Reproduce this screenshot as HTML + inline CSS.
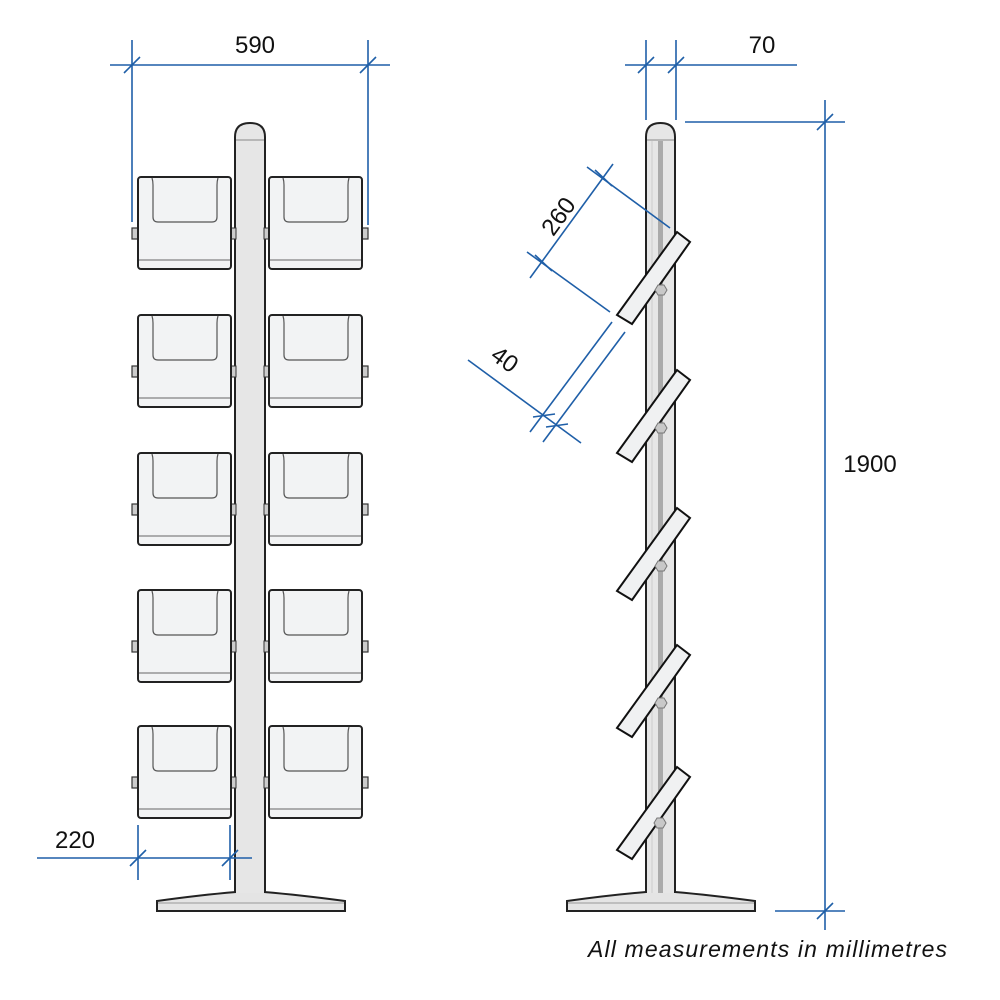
<!DOCTYPE html>
<html><head><meta charset="utf-8"><style>
html,body{margin:0;padding:0;background:#fff}
svg{display:block}
</style></head><body>
<svg width="1000" height="1000" viewBox="0 0 1000 1000" xmlns="http://www.w3.org/2000/svg">
<defs>
<g id="boxL">
  <rect x="132" y="51" width="7" height="11" fill="#ccc" stroke="#333" stroke-width="1.2"/>
  <rect x="231" y="51" width="5" height="11" fill="#ccc" stroke="#333" stroke-width="1"/>
  <rect x="138" y="0" width="93" height="92" rx="3" fill="#f2f3f4" stroke="#222" stroke-width="2"/>
  <path d="M152 1 Q153 4 153 8 L153 40 Q153 45 158 45 L212 45 Q217 45 217 40 L217 8 Q217 4 218 1" fill="none" stroke="#555" stroke-width="1.2"/>
  <line x1="139" y1="83" x2="230" y2="83" stroke="#666" stroke-width="1"/>
</g>
<g id="boxR">
  <rect x="264" y="51" width="6" height="11" fill="#ccc" stroke="#333" stroke-width="1"/>
  <rect x="361" y="51" width="7" height="11" fill="#ccc" stroke="#333" stroke-width="1.2"/>
  <rect x="269" y="0" width="93" height="92" rx="3" fill="#f2f3f4" stroke="#222" stroke-width="2"/>
  <path d="M283 1 Q284 4 284 8 L284 40 Q284 45 289 45 L343 45 Q348 45 348 40 L348 8 Q348 4 349 1" fill="none" stroke="#555" stroke-width="1.2"/>
  <line x1="270" y1="83" x2="361" y2="83" stroke="#666" stroke-width="1"/>
</g>
<g id="shelf">
  <polygon points="677,232 690,242 632,324 617,315" fill="#f0f1f2" stroke="#111" stroke-width="2"/>
</g>
<polygon id="hex" points="-3,-5 3,-5 6,0 3,5 -3,5 -6,0" fill="#c8c8c8" stroke="#777" stroke-width="1"/>
</defs>

<path d="M157 911 L157 901 Q200 895 236 892 L264 892 Q300 895 345 901 L345 911 Z" fill="#e4e4e4" stroke="#222" stroke-width="2"/>
<line x1="158" y1="903" x2="344" y2="903" stroke="#999" stroke-width="1"/>
<path d="M235 893 L235 137 Q235 123 250 123 Q265 123 265 137 L265 893" fill="#e6e6e6" stroke="#222" stroke-width="2"/>
<line x1="236" y1="140" x2="264" y2="140" stroke="#888" stroke-width="1"/>

<use href="#boxL" transform="translate(0,177)"/><use href="#boxR" transform="translate(0,177)"/>
<use href="#boxL" transform="translate(0,315)"/><use href="#boxR" transform="translate(0,315)"/>
<use href="#boxL" transform="translate(0,453)"/><use href="#boxR" transform="translate(0,453)"/>
<use href="#boxL" transform="translate(0,590)"/><use href="#boxR" transform="translate(0,590)"/>
<use href="#boxL" transform="translate(0,726)"/><use href="#boxR" transform="translate(0,726)"/>

<path d="M567 911 L567 901 Q610 895 646 892 L675 892 Q710 895 755 901 L755 911 Z" fill="#e4e4e4" stroke="#222" stroke-width="2"/>
<line x1="568" y1="903" x2="754" y2="903" stroke="#999" stroke-width="1"/>
<path d="M646 893 L646 137 Q646 123 660.5 123 Q675 123 675 137 L675 893" fill="#e6e6e6" stroke="#222" stroke-width="2"/>
<line x1="647" y1="140" x2="674" y2="140" stroke="#888" stroke-width="1"/>
<rect x="658" y="141" width="5" height="752" fill="#aaa"/>
<line x1="652" y1="141" x2="652" y2="893" stroke="#ccc" stroke-width="1"/>

<use href="#shelf"/>
<use href="#shelf" transform="translate(0,138)"/>
<use href="#shelf" transform="translate(0,276)"/>
<use href="#shelf" transform="translate(0,413)"/>
<use href="#shelf" transform="translate(0,535)"/>
<use href="#hex" transform="translate(661,290)"/>
<use href="#hex" transform="translate(661,428)"/>
<use href="#hex" transform="translate(661,566)"/>
<use href="#hex" transform="translate(661,703)"/>
<use href="#hex" transform="translate(660,823)"/>

<g stroke="#1f5fa8" stroke-width="1.6" fill="none">
  <line x1="110" y1="65" x2="390" y2="65"/>
  <line x1="132" y1="40" x2="132" y2="222"/>
  <line x1="368" y1="40" x2="368" y2="225"/>
  <line x1="124" y1="73" x2="140" y2="57"/>
  <line x1="360" y1="73" x2="376" y2="57"/>
  <line x1="37" y1="858" x2="252" y2="858"/>
  <line x1="138" y1="825" x2="138" y2="880"/>
  <line x1="230" y1="825" x2="230" y2="880"/>
  <line x1="130" y1="866" x2="146" y2="850"/>
  <line x1="222" y1="866" x2="238" y2="850"/>
  <line x1="625" y1="65" x2="797" y2="65"/>
  <line x1="646" y1="40" x2="646" y2="120"/>
  <line x1="676" y1="40" x2="676" y2="120"/>
  <line x1="638" y1="73" x2="654" y2="57"/>
  <line x1="668" y1="73" x2="684" y2="57"/>
  <line x1="825" y1="100" x2="825" y2="930"/>
  <line x1="685" y1="122" x2="845" y2="122"/>
  <line x1="775" y1="911" x2="845" y2="911"/>
  <line x1="817" y1="130" x2="833" y2="114"/>
  <line x1="817" y1="919" x2="833" y2="903"/>
  <line x1="587" y1="167" x2="670" y2="228"/>
  <line x1="527" y1="252" x2="610" y2="312"/>
  <line x1="613" y1="164" x2="530" y2="278"/>
  <line x1="595" y1="170" x2="612" y2="186"/>
  <line x1="535" y1="255" x2="552" y2="271"/>
  <line x1="468" y1="360" x2="581" y2="443"/>
  <line x1="612" y1="322" x2="530" y2="432"/>
  <line x1="625" y1="332" x2="543" y2="442"/>
  <line x1="533" y1="417" x2="555" y2="414"/>
  <line x1="546" y1="427" x2="568" y2="424"/>
</g>

<g font-family="Liberation Sans, Arial, sans-serif" font-size="24" fill="#111">
  <text x="255" y="53" text-anchor="middle">590</text>
  <text x="75" y="848" text-anchor="middle">220</text>
  <text x="762" y="53" text-anchor="middle">70</text>
  <text x="870" y="472" text-anchor="middle">1900</text>
  <text x="0" y="0" text-anchor="middle" transform="translate(565,221) rotate(-54)">260</text>
  <text x="0" y="0" text-anchor="middle" transform="translate(500,366) rotate(36)">40</text>
</g>
<text x="588" y="957" font-family="Liberation Sans, Arial, sans-serif" font-size="23" font-style="italic" fill="#111" textLength="359" lengthAdjust="spacing">All measurements in millimetres</text>
</svg>
</body></html>
